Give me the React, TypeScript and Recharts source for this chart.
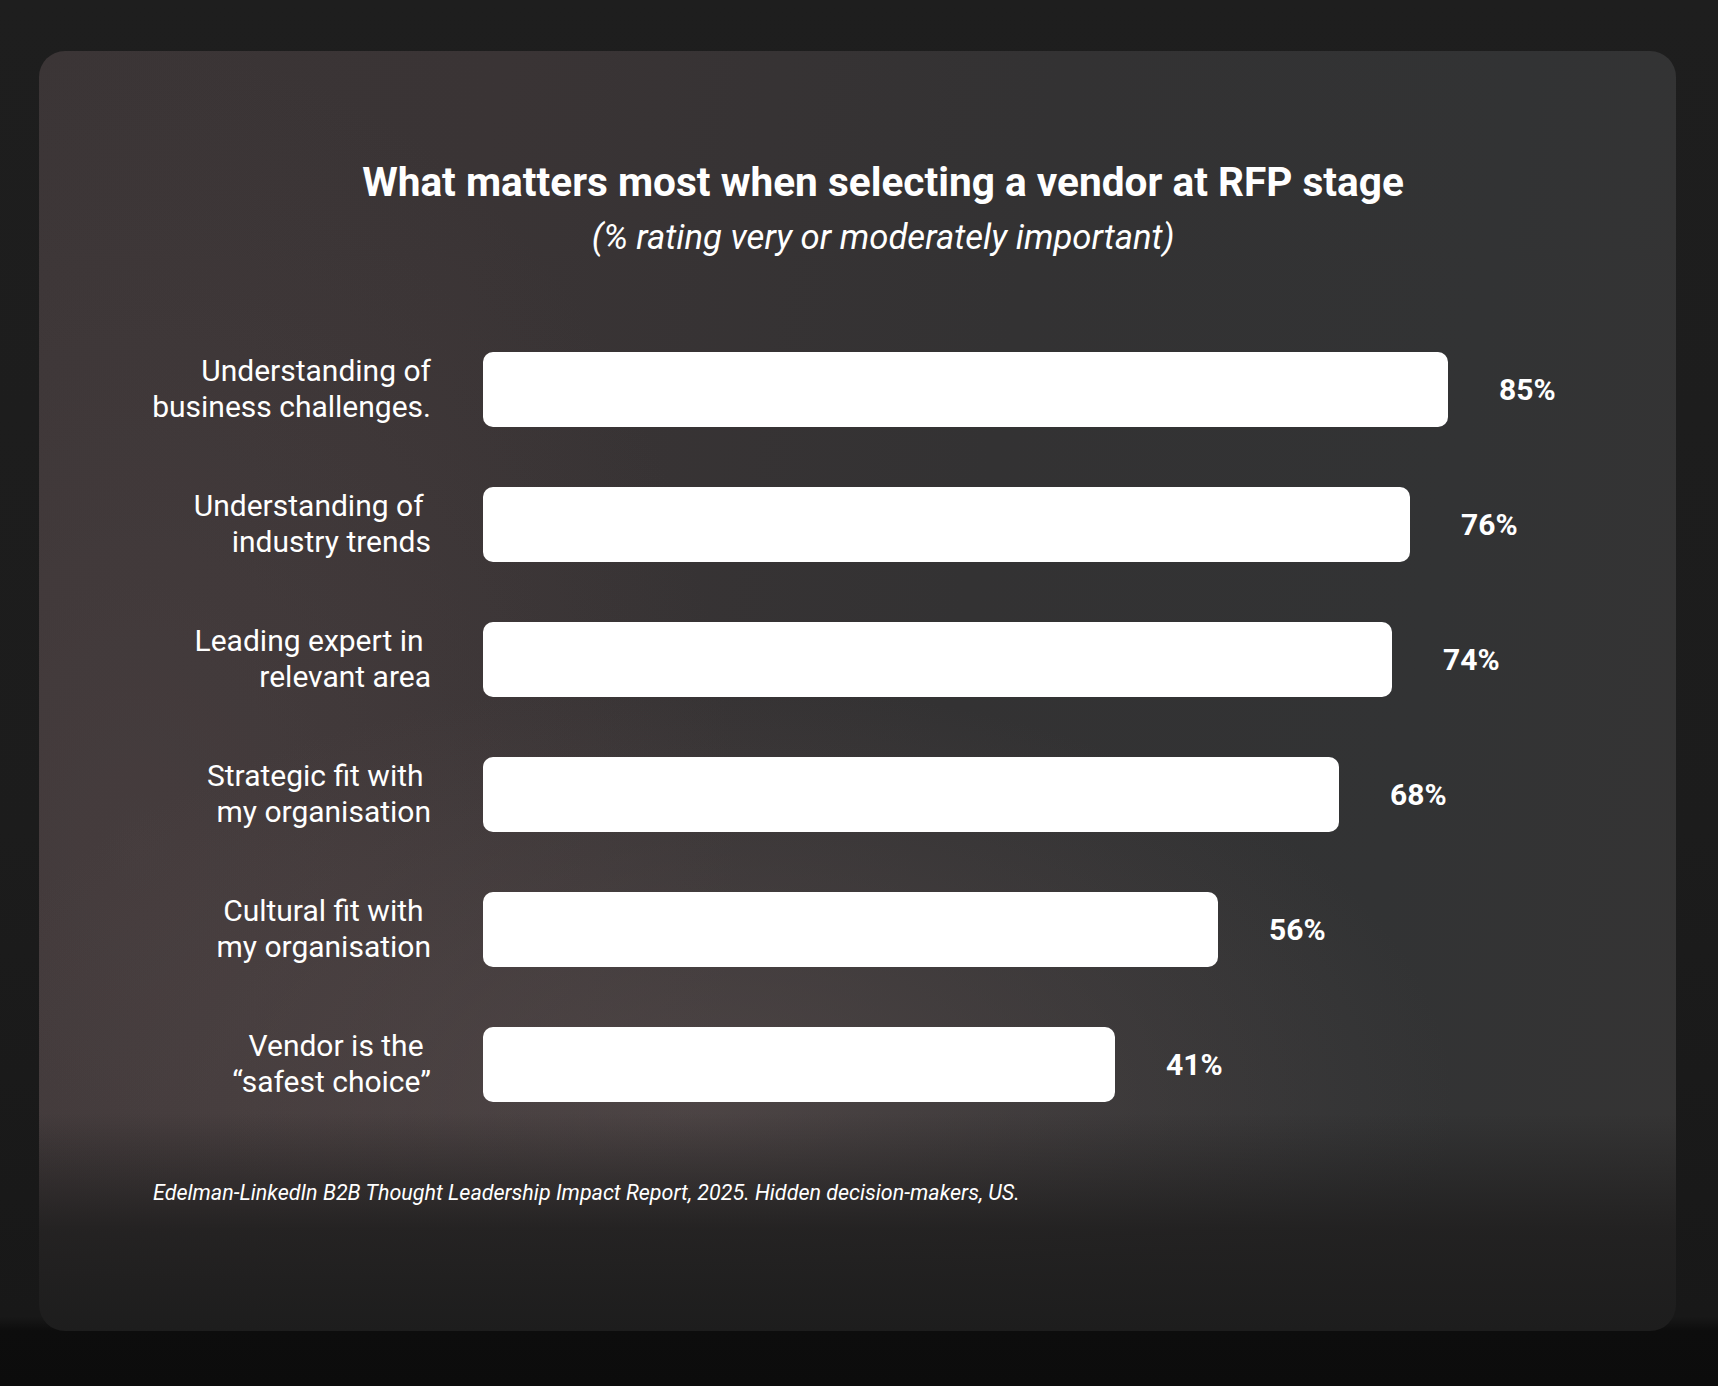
import React from 'react';
import { BarChart, Bar, XAxis, YAxis, LabelList } from 'recharts';

const categories: string[] = [
  'Understanding of\nbusiness challenges.',
  'Understanding of\u00A0\nindustry trends',
  'Leading expert in\u00A0\nrelevant area',
  'Strategic fit with\u00A0\nmy organisation',
  'Cultural fit with\u00A0\nmy organisation',
  'Vendor is the\u00A0\n\u201Csafest choice\u201D',
];
const percentValues: number[] = [85, 76, 74, 68, 56, 41];
// drawn bar lengths (the original is not drawn to scale)
const barLengths: number[] = [96.5, 92.7, 90.9, 85.6, 73.5, 63.2];
const valueLabels: string[] = ['85%', '76%', '74%', '68%', '56%', '41%'];

const TITLE = 'What matters most when selecting a vendor at RFP stage';
const SUBTITLE = '(% rating very or moderately important)';
const SOURCE = 'Edelman-LinkedIn B2B Thought Leadership Impact Report, 2025. Hidden decision-makers, US.';

const data = categories.map((c, i) => ({
  category: c,
  value: percentValues[i],
  length: barLengths[i],
  label: valueLabels[i],
}));

const FONT = 'Roboto, "Noto Sans", sans-serif';

const CategoryTick = (props: any) => {
  const { x, y, payload } = props;
  const lines = String(payload.value).split('\n');
  return (
    <text x={x} y={y} textAnchor="end" fill="#ffffff" fontFamily={FONT} fontSize={30} fontWeight={400}>
      {lines.map((l, i) => (
        <tspan key={i} x={x} y={y - 9 + i * 36.6}>{l}</tspan>
      ))}
    </text>
  );
};

const ValueLabel = (props: any) => {
  const { x, y, width, height, index } = props;
  return (
    <text
      x={x + width + 51}
      y={y + height / 2 + 10.5}
      fill="#ffffff"
      fontFamily={FONT}
      fontSize={30}
      fontWeight={700}
      textAnchor="start"
    >
      {valueLabels[index]}
    </text>
  );
};

export default function App() {
  return (
    <div
      style={{
        position: 'absolute',
        left: 0,
        top: 0,
        width: 1718,
        height: 1386,
        overflow: 'hidden',
        background:
          'linear-gradient(to bottom, #1e1e1e 0%, #1c1c1c 60%, #181818 95%, #0d0d0d 96%, #0c0c0c 100%)',
      }}
    >
      <div
        style={{
          position: 'absolute',
          left: 39,
          top: 51,
          width: 1637,
          height: 1280,
          borderRadius: 26,
          overflow: 'hidden',
          background: [
            'linear-gradient(to bottom, rgba(29,29,29,0) 0%, rgba(29,29,29,0) 83%, rgba(32,31,31,0.88) 92%, rgba(29,29,29,1) 100%)',
            'radial-gradient(ellipse 760px 420px at 40% 82%, rgba(92,80,80,0.6), rgba(92,80,80,0) 100%)',
            'radial-gradient(ellipse 600px 800px at 6% 62%, rgba(80,68,69,0.5), rgba(80,68,69,0) 100%)',
            'linear-gradient(100deg, #3b3536 0%, #3a3435 25%, #333233 55%, #323334 80%, #353434 100%)',
          ].join(','),
        }}
      />
      <div
        style={{
          position: 'absolute',
          left: 0,
          width: 1766,
          top: 158,
          textAlign: 'center',
          color: '#ffffff',
          fontFamily: FONT,
          fontWeight: 700,
          fontSize: 40.6,
          lineHeight: '48px',
          whiteSpace: 'nowrap',
        }}
      >
        {TITLE}
      </div>
      <div
        style={{
          position: 'absolute',
          left: 0,
          width: 1766,
          top: 215,
          textAlign: 'center',
          color: '#ffffff',
          fontFamily: FONT,
          fontStyle: 'italic',
          fontWeight: 400,
          fontSize: 34.7,
          lineHeight: '44px',
          whiteSpace: 'nowrap',
        }}
      >
        {SUBTITLE}
      </div>
      <div
        style={{
          position: 'absolute',
          left: 153,
          top: 1179,
          color: '#ffffff',
          fontFamily: FONT,
          fontStyle: 'italic',
          fontWeight: 400,
          fontSize: 21.5,
          lineHeight: '28px',
          whiteSpace: 'nowrap',
        }}
      >
        {SOURCE}
      </div>
      <div style={{ position: 'absolute', left: 0, top: 0 }}>
        <BarChart
          width={1718}
          height={1386}
          data={data}
          layout="vertical"
          margin={{ top: 322, bottom: 254, left: 0, right: 235 }}
          barCategoryGap={60}
        >
          <XAxis type="number" dataKey="length" domain={[0, 100]} hide />
          <YAxis
            type="category"
            dataKey="category"
            width={483}
            axisLine={false}
            tickLine={false}
            tickSize={0}
            tickMargin={52}
            tick={<CategoryTick />}
            interval={0}
          />
          <Bar dataKey="length" fill="#ffffff" barSize={75} radius={10} isAnimationActive={false}>
            <LabelList dataKey="label" content={<ValueLabel />} />
          </Bar>
        </BarChart>
      </div>
    </div>
  );
}
